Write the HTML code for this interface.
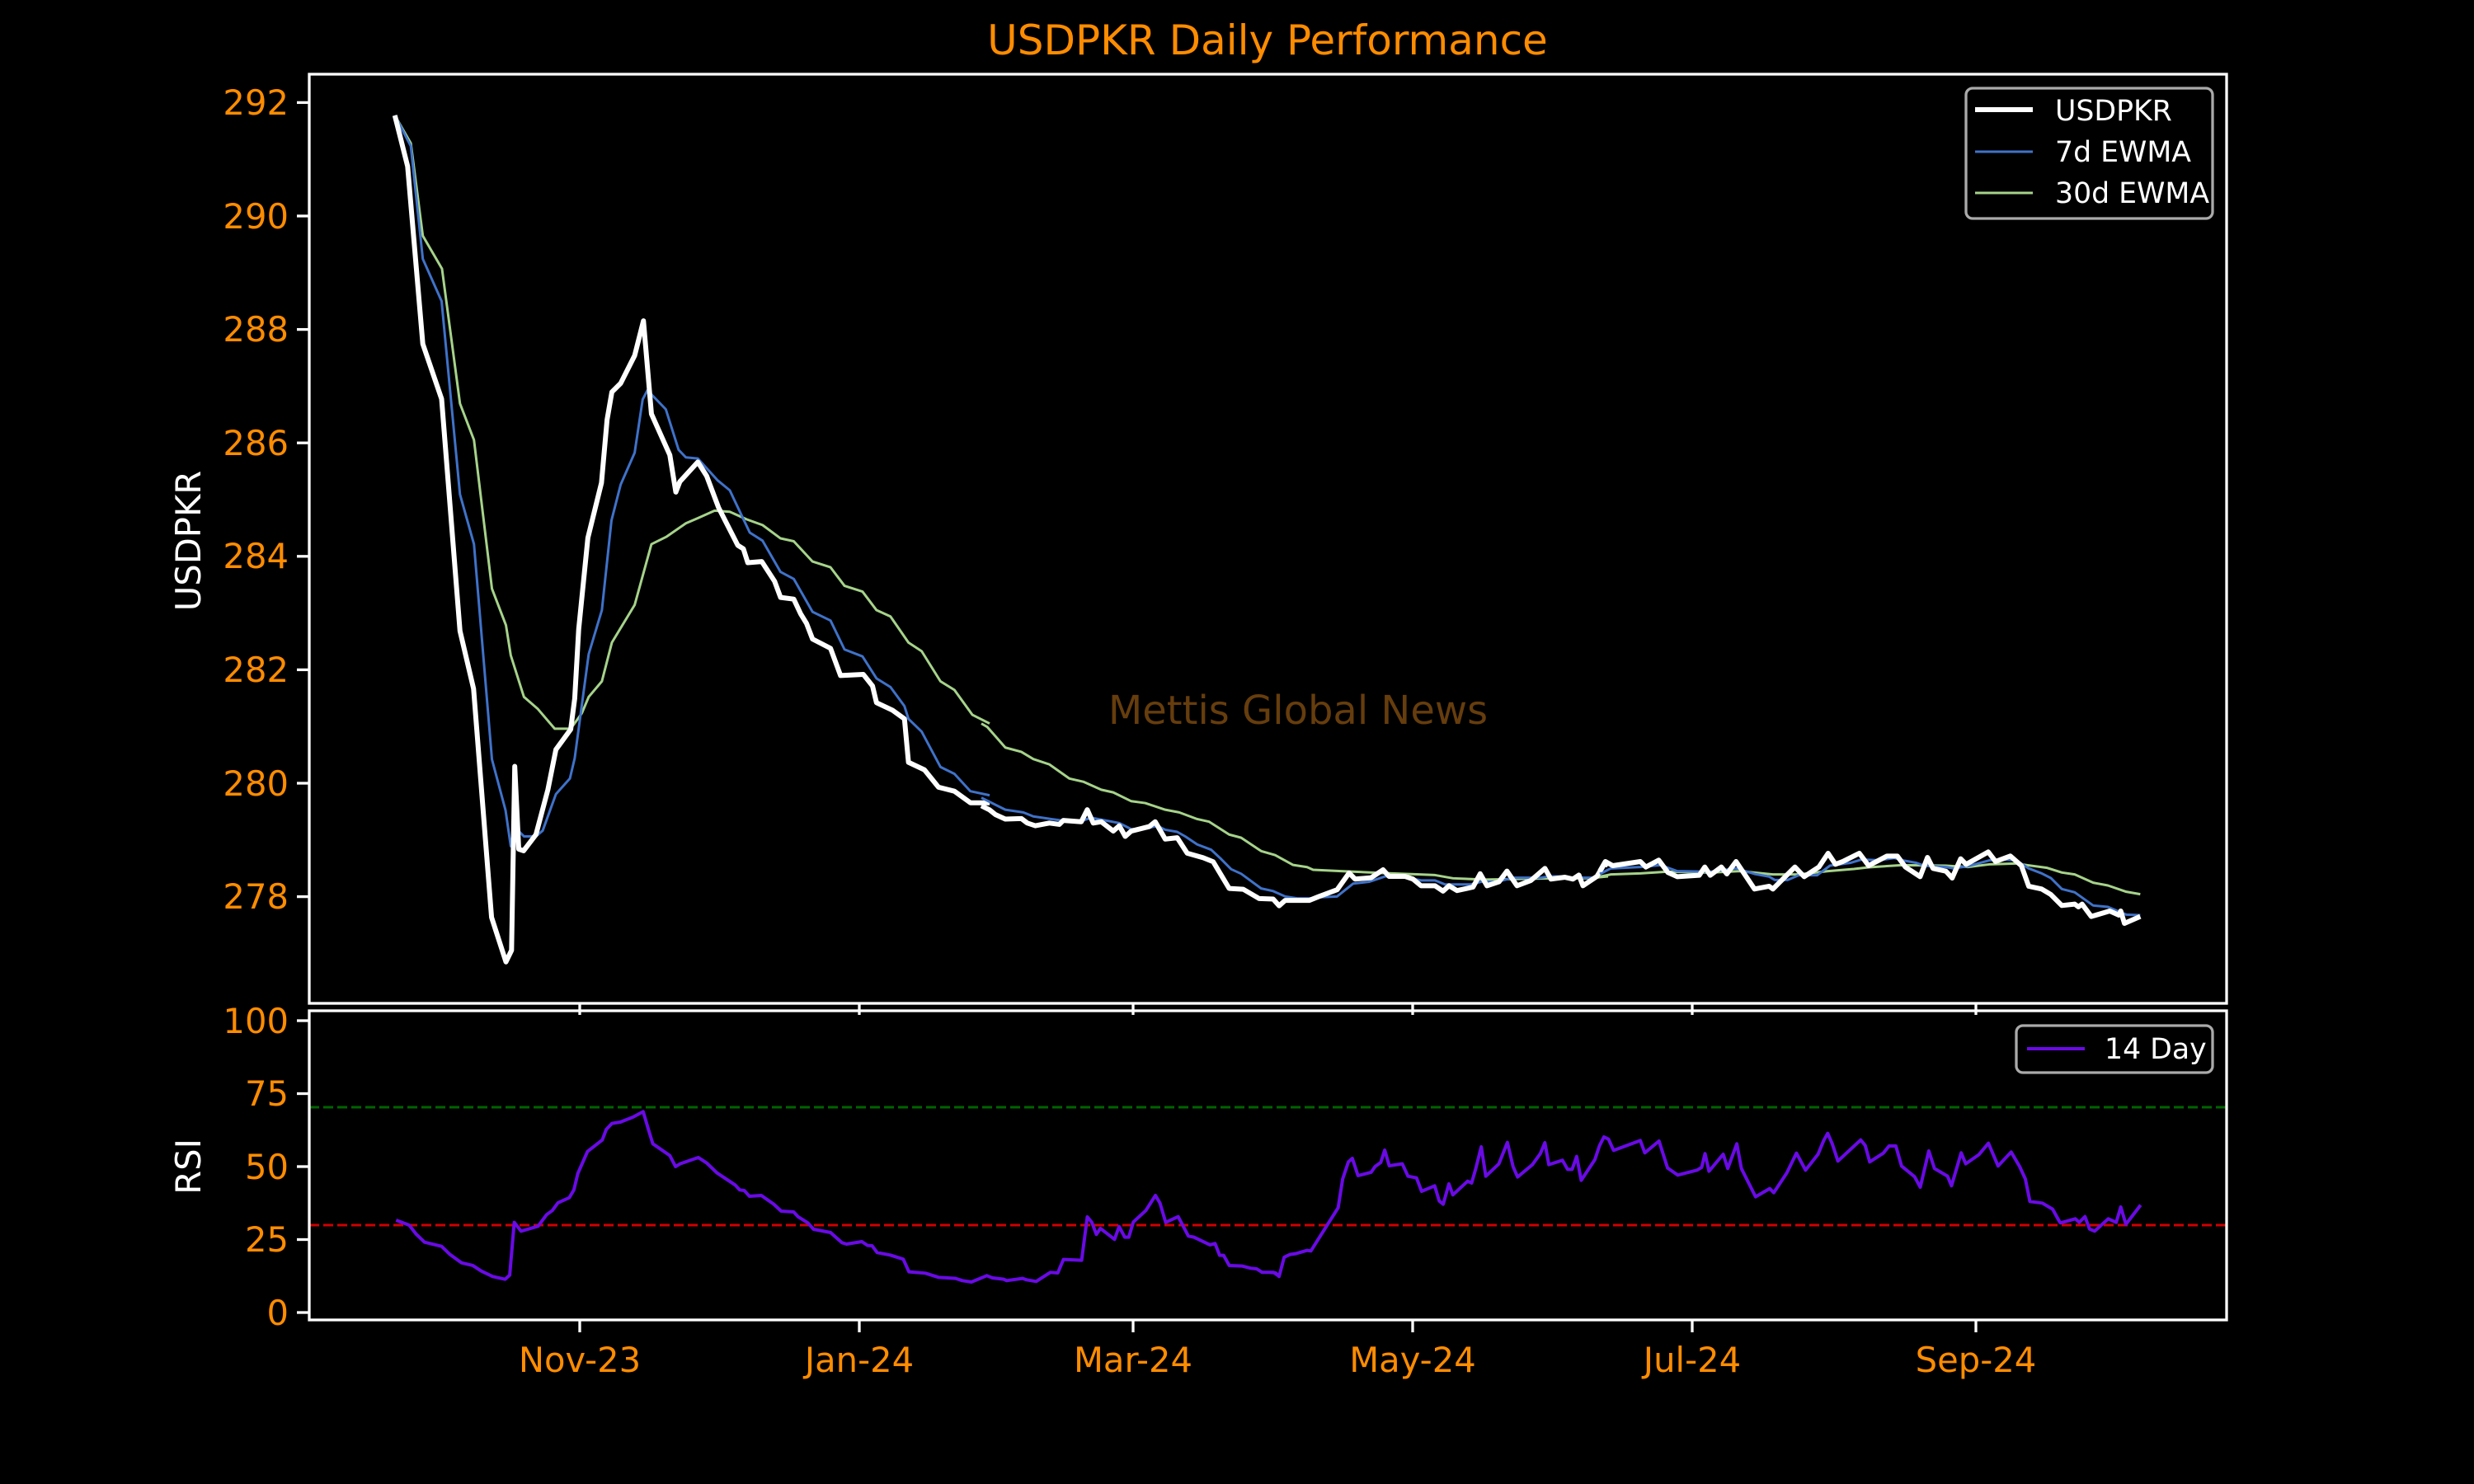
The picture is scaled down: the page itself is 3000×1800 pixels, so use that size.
<!DOCTYPE html>
<html><head><meta charset="utf-8"><style>
html,body{margin:0;padding:0;background:#000;}
svg{display:block;}
text{font-family:"DejaVu Sans","Liberation Sans",sans-serif;}
</style></head><body>
<svg width="3000" height="1800" viewBox="0 0 3000 1800" xmlns="http://www.w3.org/2000/svg">
<rect width="3000" height="1800" fill="#000"/>
<text x="1537" y="66" font-size="50" fill="#ff8c00" text-anchor="middle">USDPKR Daily Performance</text>
<text x="1574" y="878" font-size="48" fill="#663d0d" text-anchor="middle">Mettis Global News</text>

<g stroke="#fff" stroke-width="3.3">
<line x1="360" y1="124.4" x2="375" y2="124.4"/><line x1="360" y1="262" x2="375" y2="262"/>
<line x1="360" y1="399.6" x2="375" y2="399.6"/><line x1="360" y1="537.2" x2="375" y2="537.2"/>
<line x1="360" y1="674.8" x2="375" y2="674.8"/><line x1="360" y1="812.4" x2="375" y2="812.4"/>
<line x1="360" y1="950" x2="375" y2="950"/><line x1="360" y1="1087.6" x2="375" y2="1087.6"/>
<line x1="360" y1="1238" x2="375" y2="1238"/><line x1="360" y1="1326.5" x2="375" y2="1326.5"/>
<line x1="360" y1="1415" x2="375" y2="1415"/><line x1="360" y1="1503.5" x2="375" y2="1503.5"/>
<line x1="360" y1="1592" x2="375" y2="1592"/>
<line x1="703" y1="1217" x2="703" y2="1231"/><line x1="1042" y1="1217" x2="1042" y2="1231"/>
<line x1="1374" y1="1217" x2="1374" y2="1231"/><line x1="1713" y1="1217" x2="1713" y2="1231"/>
<line x1="2052" y1="1217" x2="2052" y2="1231"/><line x1="2396" y1="1217" x2="2396" y2="1231"/>
<line x1="703" y1="1601" x2="703" y2="1616"/><line x1="1042" y1="1601" x2="1042" y2="1616"/>
<line x1="1374" y1="1601" x2="1374" y2="1616"/><line x1="1713" y1="1601" x2="1713" y2="1616"/>
<line x1="2052" y1="1601" x2="2052" y2="1616"/><line x1="2396" y1="1601" x2="2396" y2="1616"/>
</g>
<g font-size="41.7" fill="#ff8c00" text-anchor="end">
<text x="350" y="139">292</text><text x="350" y="277">290</text><text x="350" y="414">288</text>
<text x="350" y="552">286</text><text x="350" y="689">284</text><text x="350" y="827">282</text>
<text x="350" y="965">280</text><text x="350" y="1102">278</text>
<text x="350" y="1253">100</text><text x="350" y="1341">75</text><text x="350" y="1430">50</text>
<text x="350" y="1518">25</text><text x="350" y="1607">0</text>
</g>
<g font-size="41.7" fill="#ff8c00" text-anchor="middle">
<text x="703" y="1664">Nov-23</text><text x="1042" y="1664">Jan-24</text><text x="1374" y="1664">Mar-24</text>
<text x="1713" y="1664">May-24</text><text x="2052" y="1664">Jul-24</text><text x="2396" y="1664">Sep-24</text>
</g>
<text transform="translate(243,656) rotate(-90)" font-size="41.7" fill="#fff" text-anchor="middle">USDPKR</text>
<text transform="translate(243,1415) rotate(-90)" font-size="41.7" fill="#fff" text-anchor="middle">RSI</text>

<line x1="375" y1="1343" x2="2700" y2="1343" stroke="#006400" stroke-width="3" stroke-dasharray="12,5"/>
<line x1="375" y1="1486" x2="2700" y2="1486" stroke="#d00000" stroke-width="3" stroke-dasharray="12,5"/>

<g fill="none" stroke-linejoin="round">
<g transform="translate(440,100) scale(0.4847,0.7018)">
<polyline vector-effect="non-scaling-stroke" stroke="#a6d38a" stroke-width="3" points="80,57 120,105 150,265 198,322 243,555 278,618 323,875 358,938 370,990 403,1062 438,1083 480,1117 520,1117 548,1090 565,1062 598,1035 623,968 680,903 722,798 760,785 808,762 838,753 880,740 918,742 960,755 1000,765 1045,788 1078,793 1125,828 1170,838 1205,870 1250,880 1285,912 1320,923 1365,968 1398,983 1445,1035 1480,1050 1525,1093 1568,1108"/>
<polyline vector-effect="non-scaling-stroke" stroke="#3f72c9" stroke-width="3" points="80,57 120,110 150,305 197,378 243,712 278,798 323,1170 357,1258 370,1320 380,1287 403,1303 433,1303 450,1293 483,1230 518,1203 530,1168 565,988 598,912 622,757 645,695 680,640 700,548 712,532 758,565 790,635 808,648 838,650 888,688 918,705 968,778 1000,792 1045,846 1078,858 1125,915 1170,930 1205,980 1250,992 1285,1030 1320,1045 1355,1078 1365,1100 1398,1122 1445,1183 1480,1195 1520,1225 1568,1232"/>
<polyline vector-effect="non-scaling-stroke" stroke="#fff" stroke-width="6" points="80,57 112,145 150,452 197,547 243,948 277,1048 322,1443 358,1520 372,1500 380,1182 390,1325 402,1328 433,1300 463,1222 483,1153 520,1118 530,1065 540,945 563,787 597,692 611,583 623,535 645,520 680,472 702,412 722,573 768,644 783,708 793,690 838,656 860,680 890,735 938,800 952,806 963,830 998,828 1030,862 1045,890 1078,893 1095,918 1110,935 1125,962 1170,978 1195,1025 1252,1023 1275,1043 1285,1072 1325,1085 1355,1100 1365,1175 1405,1188 1440,1218 1480,1225 1520,1245 1568,1245"/>
</g>
<g transform="translate(1190,663.4) scale(0.4847,0.3236)">
<polyline vector-effect="non-scaling-stroke" stroke="#a6d38a" stroke-width="3" points="0,662 15,675 60,752 100,768 130,795 170,815 220,868 255,880 300,910 330,920 375,953 410,960 460,985 495,995 540,1020 570,1030 620,1078 650,1090 700,1140 735,1155 780,1192 815,1200 830,1210 900,1215 1000,1222 1090,1227 1135,1230 1180,1242 1260,1247 1330,1245 1440,1242 1520,1242 1568,1235"/>
<polyline vector-effect="non-scaling-stroke" stroke="#3f72c9" stroke-width="3" points="0,940 20,955 60,985 105,995 130,1010 175,1020 200,1025 255,1025 275,1015 345,1035 375,1058 415,1055 440,1045 460,1060 490,1068 510,1085 540,1115 575,1135 600,1170 625,1208 650,1225 700,1280 730,1290 760,1310 790,1317 830,1317 850,1313 890,1310 930,1262 970,1255 1010,1235 1050,1235 1100,1250 1135,1250 1160,1265 1225,1265 1250,1255 1290,1255 1330,1240 1400,1240 1420,1235 1450,1235 1480,1240 1530,1240 1568,1210"/>
<polyline vector-effect="non-scaling-stroke" stroke="#fff" stroke-width="6" points="0,970 20,985 35,1003 60,1020 100,1018 115,1035 135,1045 170,1035 195,1040 205,1025 250,1030 265,985 280,1035 300,1030 330,1065 345,1045 360,1085 375,1065 420,1048 435,1030 460,1095 490,1090 515,1148 555,1165 580,1180 600,1230 620,1280 655,1283 695,1318 730,1320 745,1345 760,1325 820,1325 845,1310 890,1285 920,1222 935,1245 975,1240 1005,1210 1020,1235 1060,1235 1080,1245 1100,1270 1135,1270 1155,1290 1170,1270 1190,1288 1230,1275 1248,1225 1265,1270 1295,1255 1315,1215 1340,1270 1375,1250 1410,1205 1425,1245 1460,1238 1480,1245 1495,1230 1505,1270 1540,1235 1560,1185 1568,1195"/>
</g>
<g transform="translate(1940,950) scale(0.4464,0.3333)">
<polyline vector-effect="non-scaling-stroke" stroke="#a6d38a" stroke-width="3" points="0,340 30,332 110,328 180,322 300,325 380,320 470,332 540,332 620,320 690,312 730,306 820,298 940,300 1000,305 1060,295 1130,292 1160,298 1215,308 1255,325 1290,332 1340,362 1380,372 1430,395 1468,404"/>
<polyline vector-effect="non-scaling-stroke" stroke="#3f72c9" stroke-width="3" points="0,330 30,310 110,305 165,298 210,320 300,322 370,310 420,330 460,340 475,352 510,352 540,335 590,335 625,300 680,290 710,278 760,280 800,272 820,280 860,290 880,300 940,305 960,310 1000,302 1060,280 1100,278 1130,280 1165,310 1200,328 1225,345 1255,385 1290,397 1340,445 1380,450 1415,470 1430,478 1468,480"/>
<polyline vector-effect="non-scaling-stroke" stroke="#fff" stroke-width="6" points="0,320 15,285 35,300 110,285 125,305 160,280 185,325 210,340 270,335 285,305 300,335 330,305 345,330 370,285 420,385 460,375 470,385 530,305 555,340 595,305 620,255 640,295 660,285 705,255 730,300 780,265 808,265 830,305 870,340 890,270 905,310 940,320 957,345 980,275 995,295 1055,250 1075,285 1115,265 1145,300 1165,375 1200,385 1225,405 1255,445 1290,440 1300,450 1310,440 1335,485 1385,465 1410,480 1415,465 1425,510 1468,485"/>
</g>
<g transform="translate(470,1300) scale(0.6887,0.3333)">
<polyline vector-effect="non-scaling-stroke" stroke="#6a0ae6" stroke-width="4" points="15,540 38,558 50,590 65,620 95,635 110,665 130,695 150,705 165,725 185,745 207,755 215,740 223,548 235,580 265,562 280,520 290,505 300,477 320,458 328,430 335,370 352,290 378,248 385,210 395,188 410,183 432,165 450,145 460,215 467,262 497,305 507,345 515,335 547,312 562,332 580,368 612,412 620,430 628,432 637,453 658,450 680,482 693,507 715,510 723,528 740,550 750,573 780,585 800,622 808,627 835,618 845,632 853,633 862,658 885,667 908,682 918,728 947,733 970,748 1000,752 1012,760 1028,765 1055,742 1065,750 1085,755 1090,760 1118,752 1125,757 1142,763 1167,730 1180,732 1190,683 1222,686 1232,528 1240,548 1248,592 1255,570 1280,610 1288,563 1298,602 1305,602 1313,547 1335,505 1352,450 1360,478 1370,548 1392,527 1410,598 1420,602 1448,630 1457,625 1465,668 1472,668 1482,705 1505,707 1520,715 1530,717 1540,730 1560,730 1568,742"/>
</g>
<g transform="translate(1540,1300) scale(0.6887,0.3333)">
<polyline vector-effect="non-scaling-stroke" stroke="#6a0ae6" stroke-width="4" points="0,730 10,732 16,745 25,675 35,665 45,662 65,650 72,652 120,495 128,390 138,328 145,315 155,378 178,366 185,345 195,330 202,285 210,342 233,335 243,380 258,386 267,435 290,415 298,470 305,482 315,408 322,448 348,398 355,405 362,355 372,273 380,380 403,335 418,257 428,345 436,383 462,338 476,298 484,258 491,338 515,322 524,355 532,355 540,308 548,395 572,320 580,270 588,237 596,245 605,286 652,250 660,295 685,252 700,350 718,376 752,358 760,348 766,298 773,362 798,300 806,352 822,262 830,352 855,455 880,425 887,440 910,368 927,296 943,358 965,300 975,250 982,224 990,262 1000,325 1040,248 1048,268 1056,328 1080,296 1090,270 1102,270 1112,343 1135,382 1145,420 1160,288 1170,352 1193,380 1200,415 1217,295 1225,335 1248,302 1265,260 1282,343 1305,292 1320,345 1330,390 1338,472 1360,478 1378,500 1390,545 1392,550 1418,535 1425,548 1435,527 1443,572 1452,580 1476,535 1490,548 1498,492 1507,555 1533,485"/>
</g>
</g>

<rect x="375" y="90" width="2325" height="1127" fill="none" stroke="#fff" stroke-width="3.3"/>
<rect x="375" y="1226" width="2325" height="375" fill="none" stroke="#fff" stroke-width="3.3"/>

<rect x="2384" y="107" width="299" height="158" rx="8" fill="#000" stroke="#aaa" stroke-width="3.3"/>
<line x1="2395" y1="133" x2="2465" y2="133" stroke="#fff" stroke-width="6"/>
<line x1="2395" y1="184" x2="2465" y2="184" stroke="#3f72c9" stroke-width="3"/>
<line x1="2395" y1="234" x2="2465" y2="234" stroke="#a6d38a" stroke-width="3"/>
<g font-size="34.7" fill="#fff">
<text x="2492" y="146">USDPKR</text><text x="2492" y="196">7d EWMA</text><text x="2492" y="246">30d EWMA</text>
</g>
<rect x="2445" y="1244" width="238" height="57" rx="8" fill="#000" stroke="#aaa" stroke-width="3.3"/>
<line x1="2458" y1="1272" x2="2528" y2="1272" stroke="#6a0ae6" stroke-width="4"/>
<text x="2552" y="1284" font-size="34.7" fill="#fff">14 Day</text>
</svg>
</body></html>
